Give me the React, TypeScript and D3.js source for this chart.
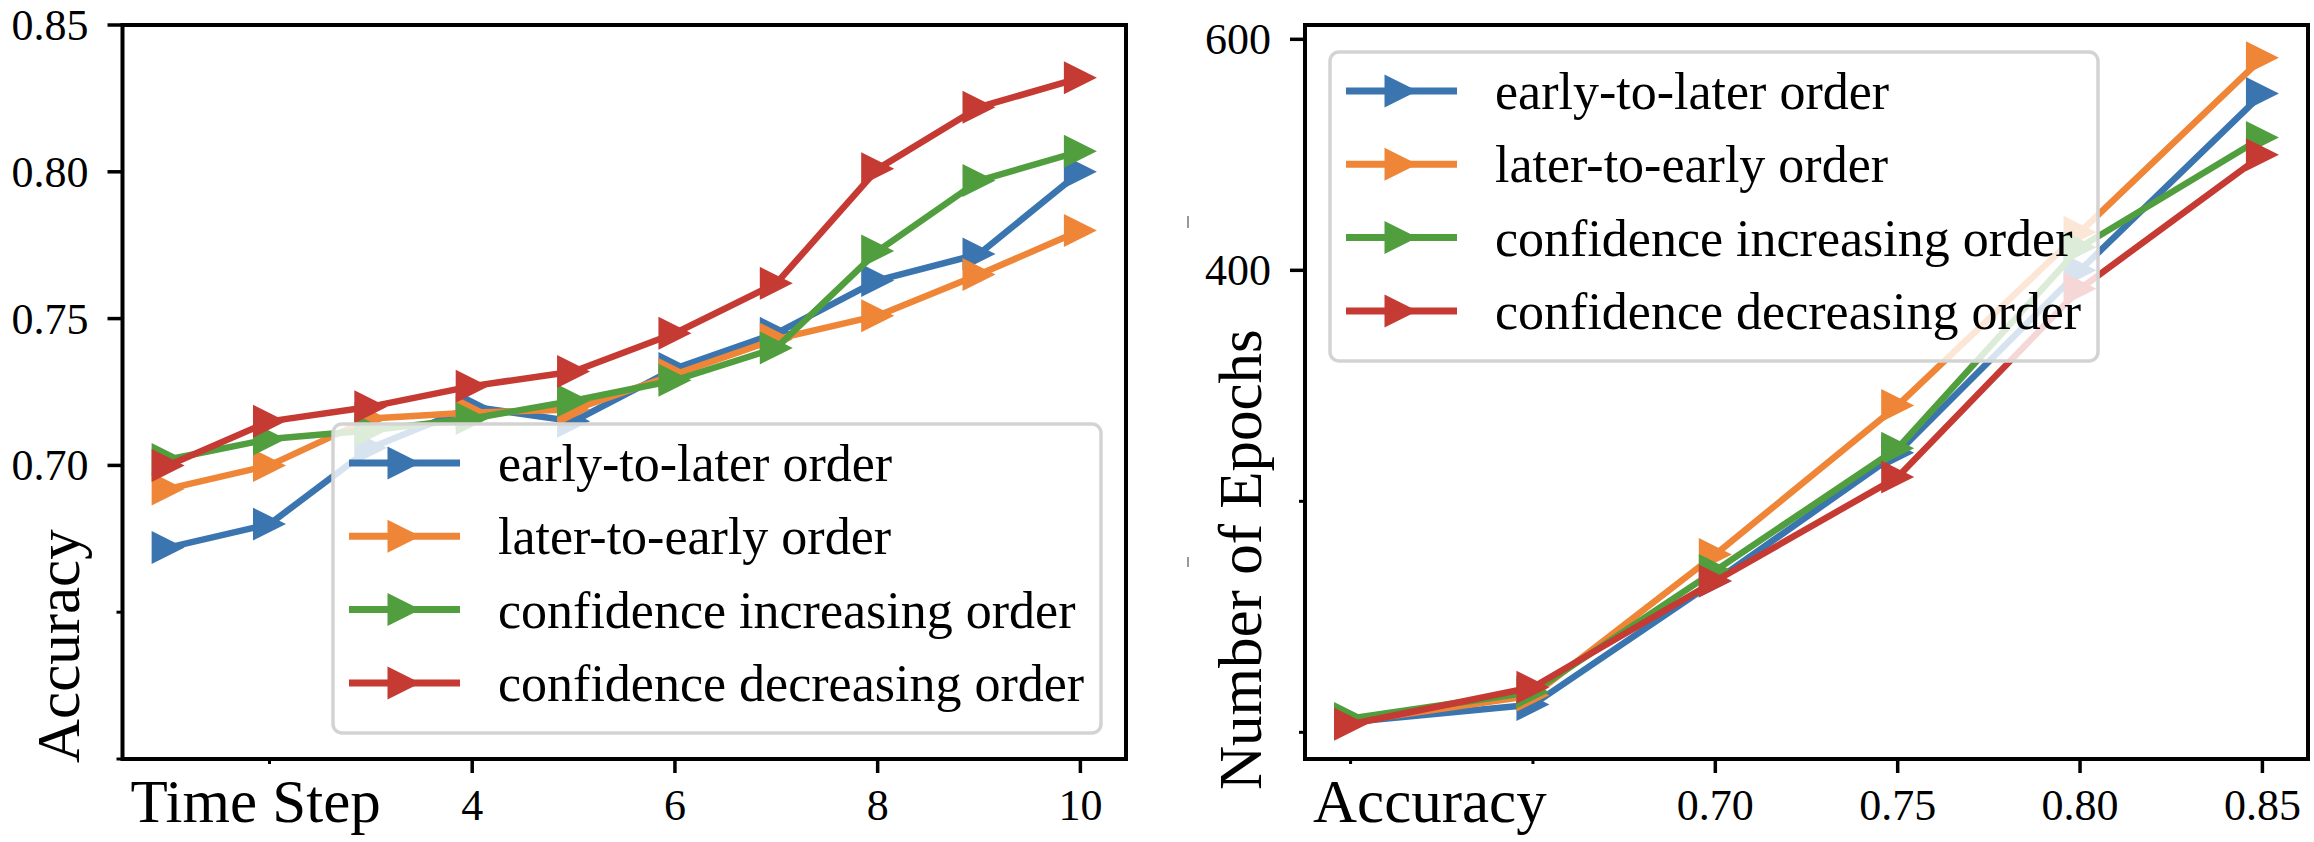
import * as d3 from 'd3';

// left panel: accuracy per time step
const timeSteps = [1, 2, 3, 4, 5, 6, 7, 8, 9, 10];
const accEarlyToLater = [0.672, 0.680, 0.706, 0.720, 0.715, 0.733, 0.745, 0.763, 0.772, 0.800];
const accLaterToEarly = [0.692, 0.700, 0.716, 0.718, 0.719, 0.731, 0.743, 0.751, 0.765, 0.780];
const accConfInc = [0.702, 0.709, 0.712, 0.716, 0.722, 0.729, 0.740, 0.773, 0.797, 0.807];
const accConfDec = [0.700, 0.715, 0.720, 0.727, 0.732, 0.745, 0.762, 0.801, 0.822, 0.832];

// right panel: epochs needed to reach an accuracy
const accTargets = [0.60, 0.65, 0.70, 0.75, 0.80, 0.85];
const epEarlyToLater = [9, 24, 131, 242, 400, 553];
const epLaterToEarly = [9, 32, 154, 283, 433, 584];
const epConfInc = [12, 35, 140, 246, 420, 515];
const epConfDec = [7, 39, 131, 221, 384, 500];

const seriesNames = [
  'early-to-later order',
  'later-to-early order',
  'confidence increasing order',
  'confidence decreasing order',
];
const seriesColors = ['#3a75af', '#ef8536', '#519e3e', '#c53a32'];

const leftYMajor = [0.70, 0.75, 0.80, 0.85];
const leftYMinor = [0.60, 0.65];
const leftXMajor = [4, 6, 8, 10];
const leftXMinor = [2];
const rightYMajor = [400, 600];
const rightYMinor = [0, 200];
const rightXMajor = [0.70, 0.75, 0.80, 0.85];
const rightXMinor = [0.60, 0.65];

const FONT = "'Liberation Serif', 'Times New Roman', Times, serif";

interface PanelProps {
  box: { x0: number; x1: number; y0: number; y1: number };
  xDomain: [number, number];
  yDomain: [number, number];
  xs: number[];
  series: number[][];
  xMajor: number[];
  xMinor: number[];
  yMajor: number[];
  yMinor: number[];
  xFmt: (v: number) => string;
  yFmt: (v: number) => string;
  xLabel: string;
  yLabel: string;
  yLabelX: number;
  yLabelY: number;
  legend: { x: number; y: number };
}

function Panel(p: PanelProps) {
  const { box } = p;
  const x = d3.scaleLinear().domain(p.xDomain).range([box.x0, box.x1]);
  const y = d3.scaleLinear().domain(p.yDomain).range([box.y1, box.y0]);
  const line = d3.line<number>().x((_, i) => x(p.xs[i])).y((d) => y(d));
  const ms = 16.5;
  const tri = (cx: number, cy: number) =>
    `M${cx - ms},${cy - ms}L${cx + ms},${cy}L${cx - ms},${cy + ms}Z`;

  const lw = 768;
  const lh = 309;
  return (
    <g>
      {p.series.map((vals, si) => (
        <g key={si}>
          <path d={line(vals) ?? ''} fill="none" stroke={seriesColors[si]} strokeWidth={6.5} strokeLinejoin="round" />
          {vals.map((v, i) => (
            <path key={i} d={tri(x(p.xs[i]), y(v))} fill={seriesColors[si]} />
          ))}
        </g>
      ))}

      <rect x={box.x0} y={box.y0} width={box.x1 - box.x0} height={box.y1 - box.y0} fill="none" stroke="#000" strokeWidth={4} />

      {p.yMajor.map((v) => (
        <g key={'ym' + v}>
          <line x1={box.x0 - 15} x2={box.x0} y1={y(v)} y2={y(v)} stroke="#000" strokeWidth={3.5} />
          <text x={box.x0 - 34} y={y(v)} dy="0.34em" textAnchor="end" fontSize={44} fontFamily={FONT}>{p.yFmt(v)}</text>
        </g>
      ))}
      {p.yMinor.map((v) => (
        <line key={'yn' + v} x1={box.x0 - 6} x2={box.x0} y1={y(v)} y2={y(v)} stroke="#000" strokeWidth={3} />
      ))}
      {p.xMajor.map((v) => (
        <g key={'xm' + v}>
          <line x1={x(v)} x2={x(v)} y1={box.y1} y2={box.y1 + 14} stroke="#000" strokeWidth={3.5} />
          <text x={x(v)} y={820} textAnchor="middle" fontSize={44} fontFamily={FONT}>{p.xFmt(v)}</text>
        </g>
      ))}
      {p.xMinor.map((v) => (
        <line key={'xn' + v} x1={x(v)} x2={x(v)} y1={box.y1} y2={box.y1 + 5} stroke="#000" strokeWidth={3} />
      ))}

      <text x={box.x0 + 8} y={822} fontSize={61} fontFamily={FONT}>{p.xLabel}</text>
      <text transform={`translate(${p.yLabelX},${p.yLabelY}) rotate(-90)`} fontSize={61} fontFamily={FONT}>{p.yLabel}</text>

      <g transform={`translate(${p.legend.x},${p.legend.y})`}>
        <rect x={0} y={0} width={lw} height={lh} rx={9} fill="#fff" fillOpacity={0.8} stroke="#d3d3d3" strokeWidth={3.5} />
        {seriesNames.map((name, i) => {
          const ry = 39 + i * 73.3;
          return (
            <g key={name}>
              <line x1={16} x2={127} y1={ry} y2={ry} stroke={seriesColors[i]} strokeWidth={7} />
              <path d={tri(71, ry)} fill={seriesColors[i]} />
              <text x={165} y={ry + 18} fontSize={52} fontFamily={FONT}>{name}</text>
            </g>
          );
        })}
      </g>
    </g>
  );
}

export default function App() {
  const fmt2 = (v: number) => v.toFixed(2);
  const fmt0 = (v: number) => String(v);
  return (
    <svg width={2314} height={842} style={{ position: 'absolute', left: 0, top: 0, background: '#fff' }}>
      <rect width={2314} height={842} fill="#fff" />
      <Panel
        box={{ x0: 122.5, x1: 1126, y0: 25, y1: 759 }}
        xDomain={[0.55, 10.45]}
        yDomain={[0.60, 0.85]}
        xs={timeSteps}
        series={[accEarlyToLater, accLaterToEarly, accConfInc, accConfDec]}
        xMajor={leftXMajor}
        xMinor={leftXMinor}
        yMajor={leftYMajor}
        yMinor={leftYMinor}
        xFmt={fmt0}
        yFmt={fmt2}
        xLabel="Time Step"
        yLabel="Accuracy"
        yLabelX={79}
        yLabelY={763}
        legend={{ x: 333, y: 424 }}
      />
      <Panel
        box={{ x0: 1305, x1: 2308, y0: 25, y1: 759 }}
        xDomain={[0.5875, 0.8625]}
        yDomain={[-23.1, 612.4]}
        xs={accTargets}
        series={[epEarlyToLater, epLaterToEarly, epConfInc, epConfDec]}
        xMajor={rightXMajor}
        xMinor={rightXMinor}
        yMajor={rightYMajor}
        yMinor={rightYMinor}
        xFmt={fmt2}
        yFmt={fmt0}
        xLabel="Accuracy"
        yLabel="Number of Epochs"
        yLabelX={1261}
        yLabelY={790}
        legend={{ x: 1330, y: 52 }}
      />
      <line x1={1188} x2={1188} y1={216} y2={228} stroke="#555" strokeWidth={1.2} />
      <line x1={1188} x2={1188} y1={557} y2={567} stroke="#555" strokeWidth={1.2} />
    </svg>
  );
}
